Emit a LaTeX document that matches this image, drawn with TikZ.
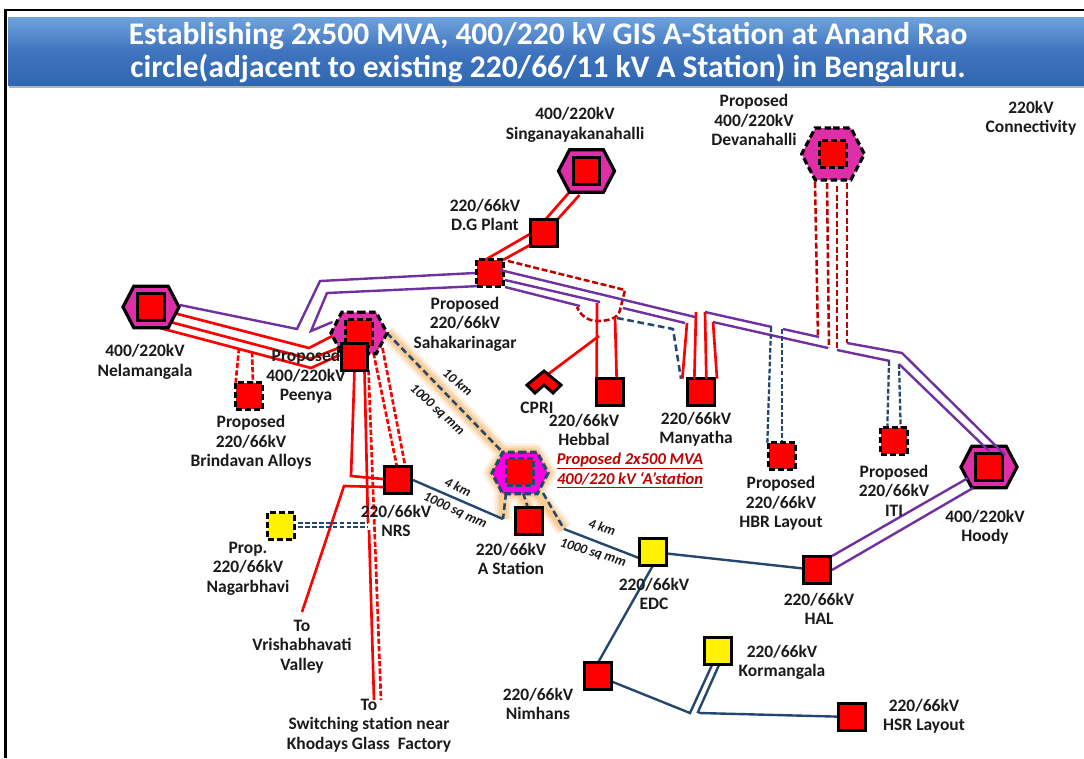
\documentclass[tikz,border=0pt]{standalone}
\usepackage{fontspec}
\setmainfont{Carlito}
\usetikzlibrary{shapes.symbols,shadings}
\pgfdeclarelayer{base}
\pgfdeclarelayer{bg}
\pgfsetlayers{base,bg,main}
\definecolor{navy}{HTML}{24476F}
\definecolor{dred}{HTML}{C00000}
\definecolor{purp}{HTML}{7030A0}
\definecolor{hexm}{HTML}{DE2EA8}
\definecolor{hexb}{HTML}{FF00E0}
\definecolor{txt}{HTML}{1A1A1A}
\definecolor{tbtop}{HTML}{6FA3DC}
\definecolor{tbmid}{HTML}{3F74BE}
\definecolor{tbbot}{HTML}{2F68B0}
\definecolor{glow1}{HTML}{FDF0E0}
\definecolor{glow2}{HTML}{FBDDBB}
\definecolor{glow3}{HTML}{F9CB95}
\tikzset{
 x=0.75pt,y=-0.75pt,
 sub/.style={draw=black,line width=2.4pt,fill=red,minimum size=20pt,inner sep=0pt,outer sep=0pt},
 subd/.style={sub,dash pattern=on 4.5pt off 2.2pt},
 ysub/.style={sub,fill=yellow},
 ysubd/.style={subd,fill=yellow},
 hexa/.style={signal,signal to=west and east,signal pointer angle=125,draw=black,line width=2.4pt,fill=hexm,minimum width=42pt,minimum height=31pt,inner sep=0pt,outer sep=0pt},
 hexd/.style={hexa,dash pattern=on 5pt off 2.5pt},
 lab/.style={font=\bfseries\fontsize{13.1}{14.6}\selectfont,text=txt,align=center,inner sep=0pt},
 note/.style={font=\bfseries\itshape\fontsize{10.2}{12}\selectfont,text=txt,inner sep=0pt},
 rnote/.style={font=\bfseries\itshape\fontsize{12.4}{14}\selectfont,text=dred,inner sep=0pt},
 pl/.style={draw=purp,line width=1.8pt},
 rl/.style={draw=red,line width=2pt},
 rd/.style={draw=red,line width=2pt,dash pattern=on 4pt off 1.6pt},
 dr/.style={draw=dred,line width=1.9pt,dash pattern=on 4.5pt off 2pt},
 nl/.style={draw=navy,line width=1.8pt},
 nd/.style={draw=navy,line width=1.9pt,dash pattern=on 5pt off 2.8pt},
 nd2/.style={draw=navy,line width=1.7pt,dash pattern=on 3.6pt off 1.6pt},
 glowa/.style={draw=glow1,line width=13pt,line join=round},
 glowb/.style={draw=glow2,line width=9pt,line join=round},
 glowc/.style={draw=glow3,line width=5.5pt,line join=round},
}
\begin{document}
\begin{tikzpicture}
\useasboundingbox (0,0) rectangle (1084,758);
\begin{pgfonlayer}{base}
\fill[white] (0,0) rectangle (1084,758);
\draw[black,line width=2pt] (5.5,758) -- (5.5,10) -- (1084,10);
\fill[gray!60] (9,20) rectangle (1084,88);
\shade[top color=tbtop,bottom color=tbbot,middle color=tbmid] (8,17) rectangle (1084,85);
\end{pgfonlayer}
\node[inner sep=0pt,text=white,align=center,font=\bfseries\fontsize{23.6}{25}\selectfont] (title) at (548,52.5)
  {Establishing 2x500 MVA, 400/220 kV GIS A-Station at Anand Rao\\circle(adjacent to existing 220/66/11 kV A Station) in Bengaluru.};

% hexagons and substations
\node[hexa] (nelahex) at (151,307) {};
\node[hexa,minimum height=32pt] (singhex) at (586.5,171) {};
\node[hexa] (hoodhex) at (989,467) {};
\node[hexd] (peenhex) at (359,333) {};
\node[hexd,minimum width=47pt,minimum height=39pt] (devahex) at (833,154) {};
\node[hexd,draw=navy,fill=hexb] (anandhex) at (520,473) {};
\node[sub] (nela) at (151,307) {};
\node[sub] (sing) at (586.5,171) {};
\node[sub] (hood) at (989,467) {};
\node[subd] (peenin) at (359,333) {};
\node[subd] (deva) at (833,154) {};
\node[subd,draw=navy] (anand) at (520,472) {};
\node[sub] (peen) at (354.5,357) {};
\node[subd] (brin) at (249,396) {};
\node[sub] (nrs) at (398,480) {};
\node[ysubd] (nagar) at (281,526) {};
\node[subd] (saha) at (490,273) {};
\node[sub] (dg) at (544,233) {};
\node[sub] (hebb) at (610,392) {};
\node[sub] (many) at (701,392) {};
\node[sub] (astn) at (529,521) {};
\node[ysub] (edc) at (653,552) {};
\node[sub] (hal) at (817,570) {};
\node[subd] (hbr) at (782,456) {};
\node[subd] (iti) at (894,441) {};
\node[sub] (nimh) at (598,676) {};
\node[ysub] (korm) at (718,651) {};
\node[sub] (hsr) at (852,717) {};
\path[draw=black,line width=2.2pt,fill=red,line join=miter] (544,371) -- (561,385) -- (553,393) -- (544,385) -- (535,393) -- (527,385) -- cycle;
\coordinate (cpri) at (547,375);

% free ends and bends
\coordinate (vris) at (302,612);
\coordinate (swA) at (374,700);
\coordinate (swB) at (381,700);

\begin{pgfonlayer}{bg}
% glow
\foreach \g in {glowa,glowb,glowc}{
 \draw[\g] (peenhex.east) -- (anandhex.north west);
 \draw[\g] (anandhex.south west) -- ([shift={(-17,47)}]anand.center);
 \draw[\g] (anandhex.south east) -- ([shift={(44,57)}]anand.center);
 \draw[\g] (anandhex.south) -- (astn.north);
 \draw[\g] (492,473)--(505,452)--(535,452)--(548,473)--(535,493)--(505,493)--cycle;
}
% purple double lines
\draw[pl] ([shift={(29,-2)}]nela.center) -- (297,329) -- (320,281) -- ([shift={(-15,0)}]saha.center);
\draw[pl] ([shift={(-22,-35)}]peen.center) -- (311,331) -- (327,293) -- ([shift={(-10,13)}]saha.center);
\draw[pl] (705,312) -- (772,327);
\draw[pl] (783,329) -- (819,337);
\draw[pl] ([shift={(15,7)}]saha.center) -- (600,302);
\draw[pl] ([shift={(15,14)}]saha.center) -- (580,306);
\draw[pl] (623,308) -- (685,323);
\draw[pl] (713,322) -- (828,348);
\draw[pl] (837,350) -- (890,361);
% red: Nelamangala to Peenya
\draw[rl] ([shift={(15,4)}]nela.center) -- (309,348) -- ([shift={(-19,-1)}]peenhex.center);
\draw[rl] ([shift={(8,12)}]nela.center) -- (310,359) -- ([shift={(-16,-9)}]peen.center);
\draw[rl] ([shift={(9,21)}]nela.center) -- (311,368) -- ([shift={(-15,-2)}]peen.center);
\draw[rd] (239,348) -- ([xshift=-10]brin.north);
\draw[rd] (252,352) -- ([xshift=3]brin.north);
% Peenya to NRS
\draw[rd] ([shift={(19,-4)}]peen.center) -- ([shift={(-1,-13)}]nrs.center);
\draw[rd] ([shift={(28,-9)}]peen.center) -- ([shift={(7,-15)}]nrs.center);
\draw[rl] ([shift={(0,13)}]peen.center) -- (351,476) -- ([shift={(-15,-1)}]nrs.center);
\coordinate (vb) at (344,486);
\draw[rl] (vris) -- (vb) -- ([shift={(-15,7)}]nrs.center);
\draw[rl] ([shift={(10,13)}]peen.center) -- (368,523);
\draw[rl] (369,530) -- (swA);
\draw[rd] ([shift={(14,13)}]peen.center) -- (swB);
% Nagarbhavi
\draw[nd2] ([shift={(17,-3)}]nagar.center) -- (368,523);
\draw[nd2] ([shift={(17,1)}]nagar.center) -- (368,527);
% Sing, DG, Saha
\draw[rl] ([shift={(-17,21)}]sing.center) -- ([shift={(1,-13)}]dg.center);
\draw[rl] ([shift={(-7,24)}]sing.center) -- ([shift={(13,-13)}]dg.center);
\draw[rl] ([shift={(-14,1)}]dg.center) -- ([shift={(-5,-13)}]saha.center);
\draw[rl] ([shift={(-14,12)}]dg.center) -- ([shift={(13,-13)}]saha.center);
% dashed Saha to Hebbal/Manyatha
\draw[dr,line join=round] ([shift={(18,-12)}]saha.center) -- (625,290) -- (620,310) .. controls (618,319) and (607,321) .. (597,321) .. controls (588,321) and (580,315) .. (577,307);
\draw[nd] (617,318) -- (673,329) -- ([xshift=-15]many.north);
\draw[rl] (597,303) -- ([xshift=-10]hebb.north);
\draw[rl] (615,318) -- ([xshift=5]hebb.north);
\draw[rl] (599,336) -- (cpri);
% Devanahalli
\draw[dr] ([shift={(-18,28)}]deva.center) -- (818,337);
\draw[dr] ([shift={(-6,29)}]deva.center) -- (829,348);
\draw[dr] ([shift={(4,32)}]deva.center) -- (837,350);
\draw[dr] ([shift={(14,29)}]deva.center) -- (847,343);
\draw[nd2] (771,327) -- ([xshift=-11]hbr.north);
\draw[nd2] (782,329) -- (hbr.north);
\draw[nd2] (889,361) -- ([xshift=-5]iti.north);
\draw[nd2] (899,364) -- ([xshift=5]iti.north);
% navy
\draw[nd] (peenhex.east) -- (anandhex.north west);
\draw[nd] ([shift={(-14,21)}]anand.center) -- ([shift={(-17,47)}]anand.center);
\draw[nl] ([shift={(-17,47)}]anand.center) -- ([shift={(15,0)}]nrs.center);
\draw[nd] ([shift={(3,21)}]anand.center) -- ([shift={(-1,-13)}]astn.center);
\draw[nd] ([shift={(23,21)}]anand.center) -- ([shift={(44,57)}]anand.center);
\draw[nl] ([shift={(44,57)}]anand.center) -- ([shift={(-14,6)}]edc.center);
\draw[nl] (edc.center) -- (hal.center);
\draw[nl] (edc.south) -- (nimh.north);
\draw[nl] (nimh.center) -- (690,713) -- ([shift={(-6,14)}]korm.center);
\draw[nl] (hsr.center) -- (700,713) -- (698,712) -- ([shift={(1,14)}]korm.center);
\end{pgfonlayer}
% lines drawn over the boxes
\draw[pl] ([shift={(10,-3)}]saha.center) -- (695,317);
\draw[pl] (847,343) -- (902,353) -- ([shift={(16,-12)}]hood.center);
\draw[pl] (899,364) -- ([shift={(0,-16)}]hood.center);
\draw[pl] ([shift={(15,-14)}]hal.center) -- ([shift={(-21,11)}]hoodhex.center);
\draw[pl] ([shift={(15,0)}]hal.center) -- ([shift={(-16,21)}]hoodhex.center);
\draw[rl] (687,323) -- ([xshift=-14]many.north);
\draw[rl] (696,312) -- ([xshift=-5]many.north);
\draw[rl] (705,312) -- ([xshift=4]many.north);
\draw[rl] (713,322) -- ([xshift=12]many.north);

% labels
\node[lab] (l1) at (575,125) {400/220kV\\Singanayakanahalli};
\node[lab] (l2) at (485,215) {220/66kV\\D.G Plant};
\node[lab] (l3) at (754,120) {Proposed\\400/220kV\\Devanahalli};
\node[lab] (l4) at (1031,118) {220kV\\Connectivity};
\node[lab] (l5) at (145,362) {400/220kV\\Nelamangala};
\node[lab] (l6) at (306,376.5) {Proposed\\400/220kV\\Peenya};
\node[lab] (l7) at (251,442.5) {Proposed\\220/66kV\\Brindavan Alloys};
\node[lab] (l8) at (465,324) {Proposed\\220/66kV\\Sahakarinagar};
\node[lab] (l9) at (537,407.5) {CPRI};
\node[lab] (l10) at (584,430) {220/66kV\\Hebbal};
\node[lab] (l11) at (696,429) {220/66kV\\Manyatha};
\node[lab] (l12) at (781,503.5) {Proposed\\220/66kV\\HBR Layout};
\node[lab] (l13) at (894,490.5) {Proposed\\220/66kV\\ITI};
\node[lab] (l14) at (985,527) {400/220kV\\Hoody};
\node[lab] (l15) at (396,521) {220/66kV\\NRS};
\node[lab] (l16) at (248,568.5) {Prop.\\220/66kV\\Nagarbhavi};
\node[lab] (l17) at (511,559) {220/66kV\\A Station};
\node[lab] (l18) at (654,594) {220/66kV\\EDC};
\node[lab] (l19) at (819,609) {220/66kV\\HAL};
\node[lab] (l20) at (302,646.5) {To\\Vrishabhavati\\Valley};
\node[lab] (l21) at (369,725.5) {To\\Switching station near\\Khodays Glass\ \ Factory};
\node[lab] (l22) at (538,704) {220/66kV\\Nimhans};
\node[lab] (l23) at (782,662.5) {220/66kV\\Kormangala};
\node[lab] (l24) at (924,716) {220/66kV\\HSR Layout};
\node[note,rotate=-40] (n1) at (458,382) {10 km};
\node[note,rotate=-42] (n2) at (437,410) {1000 sq mm};
\node[note,rotate=-25] (n3) at (458,487) {4 km};
\node[note,rotate=-25] (n4) at (455,511) {1000 sq mm};
\node[note,rotate=-17] (n5) at (602,527) {4 km};
\node[note,rotate=-17] (n6) at (593,553) {1000 sq mm};
\node[rnote] (r1) at (630,461) {\underline{Proposed 2x500 MVA}};
\node[rnote] (r2) at (630,480) {\underline{400/220 kV ‘A’station}};
\end{tikzpicture}
\end{document}
